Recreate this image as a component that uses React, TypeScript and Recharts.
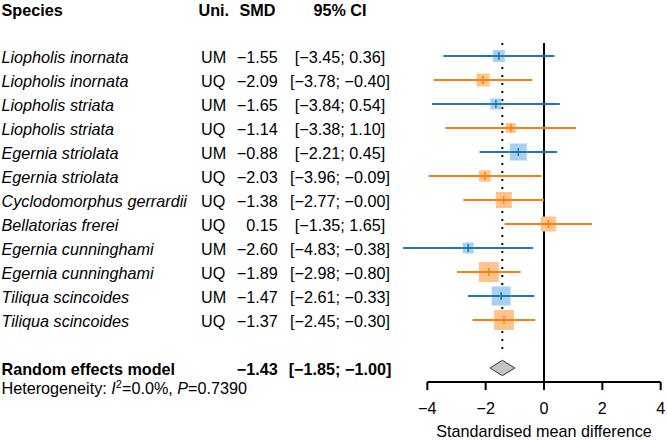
import { ComposedChart, XAxis, YAxis, Scatter, Line, Area, ReferenceLine } from 'recharts'

// forest plot: UM / UQ effect sizes per species

const species = [
  'Liopholis inornata',
  'Liopholis inornata',
  'Liopholis striata',
  'Liopholis striata',
  'Egernia striolata',
  'Egernia striolata',
  'Cyclodomorphus gerrardii',
  'Bellatorias frerei',
  'Egernia cunninghami',
  'Egernia cunninghami',
  'Tiliqua scincoides',
  'Tiliqua scincoides',
]
const units = ['UM', 'UQ', 'UM', 'UQ', 'UM', 'UQ', 'UQ', 'UQ', 'UM', 'UQ', 'UM', 'UQ']
const smd = [-1.55, -2.09, -1.65, -1.14, -0.88, -2.03, -1.38, 0.15, -2.6, -1.89, -1.47, -1.37]
const ciLower = [-3.45, -3.78, -3.84, -3.38, -2.21, -3.96, -2.77, -1.35, -4.83, -2.98, -2.61, -2.45]
const ciUpper = [0.36, -0.4, 0.54, 1.1, 0.45, -0.09, -0.0, 1.65, -0.38, -0.8, -0.33, -0.3]
// study weights (%)
const weights = [5.3, 6.2, 4.5, 3.7, 10.7, 4.9, 9.5, 8.3, 4.5, 14.8, 13.4, 14.8]

const pooled = { smd: -1.43, lower: -1.85, upper: -1.0 }
const heterogeneity = { i2: '0.0%', p: '0.7390' }
const xTicks = [-4, -2, 0, 2, 4]

const W = 667
const H = 441
const PLOT_TOP = 43
const PLOT_BOTTOM = 382
const ROW0 = 56
const ROW_H = 24
const POOLED_ROW = 13
const Y_DOMAIN: [number, number] = [(PLOT_TOP - ROW0) / ROW_H, (PLOT_BOTTOM - ROW0) / ROW_H]

const FONT = '"Liberation Sans", Arial, Helvetica, sans-serif'
const FS = 16.2

const colors: Record<string, { line: string; box: string }> = {
  UM: { line: '#1f77b4', box: '#a9d0ec' },
  UQ: { line: '#ff7f0e', box: '#fdc48e' },
}

const fmt = (n: number) => {
  const s = Math.abs(n).toFixed(2)
  return n < 0 || Object.is(n, -0) ? '\u2212' + s : s
}

const studies = species.map((name, i) => ({
  name,
  unit: units[i],
  x: smd[i],
  y: i,
  lower: ciLower[i],
  upper: ciUpper[i],
  weight: weights[i],
}))

const DIAMOND_HALF = 0.32
const diamond = [
  { x: pooled.lower, range: [POOLED_ROW, POOLED_ROW] },
  { x: pooled.smd, range: [POOLED_ROW - DIAMOND_HALF, POOLED_ROW + DIAMOND_HALF] },
  { x: pooled.upper, range: [POOLED_ROW, POOLED_ROW] },
]

function StudyBox(props: any) {
  const { cx, cy, payload } = props
  if (cx == null || cy == null) return null
  const c = colors[payload.unit]
  const s = 5.2 * Math.sqrt(payload.weight)
  return (
    <g>
      <rect x={cx - s / 2} y={cy - s / 2} width={s} height={s} fill={c.box} />
      <line x1={cx - s / 2} x2={cx + s / 2} y1={cy} y2={cy} stroke={c.line} strokeWidth={2} />
      <line x1={cx} x2={cx} y1={cy - 4} y2={cy + 4} stroke={c.line} strokeWidth={1.5} />
    </g>
  )
}

const rowY = (i: number) => ROW0 + ROW_H * i

export default function App() {
  return (
    <div style={{ position: 'absolute', left: 0, top: 0, width: W, height: H, background: '#fff' }}>
      <ComposedChart
        width={W}
        height={H}
        margin={{ top: PLOT_TOP, right: 6.3, bottom: H - PLOT_BOTTOM - 30, left: 398.15 }}
      >
        <XAxis
          type="number"
          dataKey="x"
          domain={[-5, 4]}
          ticks={xTicks}
          interval={0}
          height={30}
          axisLine={false}
          tickSize={8}
          tickMargin={12}
          tickLine={{ stroke: '#000', strokeWidth: 2 }}
          tick={{ fill: '#000', fontSize: FS, fontFamily: FONT }}
          tickFormatter={(v: number) => (v < 0 ? '\u2212' + Math.abs(v) : String(v))}
        />
        <YAxis type="number" dataKey="y" domain={Y_DOMAIN} reversed hide allowDataOverflow />
        <ReferenceLine x={0} stroke="#000" strokeWidth={2} />
        <ReferenceLine
          segment={[
            { x: pooled.smd, y: Y_DOMAIN[0] },
            { x: pooled.smd, y: 12.45 },
          ]}
          stroke="#000"
          strokeWidth={2}
          strokeDasharray="2 6"
          ifOverflow="visible"
        />
        <ReferenceLine
          segment={[
            { x: -4, y: Y_DOMAIN[1] },
            { x: 4, y: Y_DOMAIN[1] },
          ]}
          stroke="#000"
          strokeWidth={2}
          ifOverflow="visible"
        />
        {studies.map((s, i) => (
          <Line
            key={i}
            data={[
              { x: s.lower, y: s.y },
              { x: s.upper, y: s.y },
            ]}
            dataKey="y"
            type="linear"
            stroke={colors[s.unit].line}
            strokeWidth={2}
            dot={false}
            activeDot={false}
            isAnimationActive={false}
          />
        ))}
        <Scatter data={studies} shape={<StudyBox />} isAnimationActive={false} />
        <Area
          data={diamond}
          dataKey="range"
          type="linear"
          stroke="#333"
          strokeWidth={1}
          fill="#c4c4c4"
          fillOpacity={1}
          dot={false}
          activeDot={false}
          isAnimationActive={false}
        />
      </ComposedChart>

      <svg
        width={W}
        height={H}
        style={{ position: 'absolute', left: 0, top: 0, pointerEvents: 'none' }}
        fontFamily={FONT}
        fontSize={FS}
        fill="#000"
      >
        {/* header */}
        <g fontWeight="bold">
          <text x={1.5} y={15.5}>Species</text>
          <text x={198.5} y={15.5}>Uni.</text>
          <text x={275.5} y={15.5} textAnchor="end">SMD</text>
          <text x={340} y={15.5} textAnchor="middle">95% CI</text>
        </g>

        {studies.map((s, i) => (
          <g key={i}>
            <text x={1.5} y={rowY(i) + 7.3} fontStyle="italic">{s.name}</text>
            <text x={201} y={rowY(i) + 7.3}>{s.unit}</text>
            <text x={277.7} y={rowY(i) + 7.3} textAnchor="end">{fmt(s.x)}</text>
            <text x={340} y={rowY(i) + 7.3} textAnchor="middle">
              [{fmt(s.lower)}; {fmt(s.upper)}]
            </text>
          </g>
        ))}

        <g fontWeight="bold">
          <text x={1.5} y={rowY(POOLED_ROW) + 7.3}>Random effects model</text>
          <text x={277.7} y={rowY(POOLED_ROW) + 7.3} textAnchor="end">{fmt(pooled.smd)}</text>
          <text x={340} y={rowY(POOLED_ROW) + 7.3} textAnchor="middle">
            [{fmt(pooled.lower)}; {fmt(pooled.upper)}]
          </text>
        </g>

        <text x={1.5} y={394}>
          Heterogeneity: <tspan fontStyle="italic">I</tspan>
          <tspan dy={-6} fontSize={11}>2</tspan>
          <tspan dy={6}>={heterogeneity.i2}, </tspan>
          <tspan fontStyle="italic">P</tspan>={heterogeneity.p}
        </text>

        <text x={544} y={437} textAnchor="middle">Standardised mean difference</text>
      </svg>
    </div>
  )
}
